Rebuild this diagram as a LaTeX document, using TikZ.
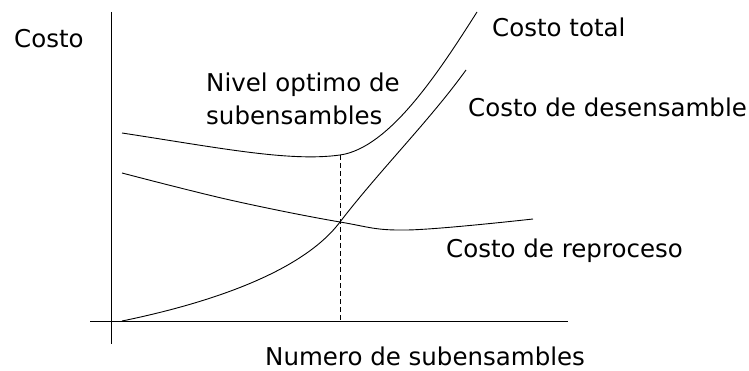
\documentclass[tikz,border=0pt]{standalone}
\usepackage{fontspec}
\setmainfont{DejaVu Sans}
\usetikzlibrary{positioning,calc}

\tikzset{
    curve/.style={line width=0.9pt},
    axis/.style={line width=0.9pt},
    lbl/.style={anchor=base west, inner sep=0pt, font=\fontsize{24.5}{30}\selectfont}
}

\begin{document}
\begin{tikzpicture}[x=1pt,y=-1pt]
        \useasboundingbox (0,0) rectangle (749,371);
        % axes
        \coordinate (ytop) at (111,12);
        \coordinate (ybot) at (111,344);
        \coordinate (xleft) at (90,321);
        \coordinate (xright) at (568,321);
        \draw [axis] (ytop) -- (ybot);
        \draw [axis] (xleft) -- (xright);
        % curves
        \coordinate (opt) at (340,222);
        \coordinate (optbase) at (340,321);
        \coordinate (tmin) at (340,155);
        \draw [curve] (122,133) .. controls (220,148) and (290,162) .. (tmin)
            .. controls (390,148) and (440,70) .. (477,12);
        \draw [curve] (122,321) .. controls (200,305) and (300,275) .. (opt)
            .. controls (380,170) and (430,120) .. (466,70);
        \draw [curve] plot [smooth, tension=0.6] coordinates {(122,173) (230,200) (opt) (407,230) (533,219)};
        \draw [line width=0.8pt, dash pattern=on 5pt off 3pt] (tmin) -- (optbase);
        % labels
        \node (ylabel) [lbl] at (14,48) {Costo};
        \node (xlabel) [lbl] at (265,365) {Numero de subensambles};
        \node (total) [lbl] at (492,37) {Costo total};
        \node (nivel) [lbl] at (206,92) {Nivel optimo de};
        \node (subens) [lbl] at (206,125) {subensambles};
        \node (desens) [lbl] at (468,117) {Costo de desensamble};
        \node (reproc) [lbl] at (446,258) {Costo de reproceso};
\end{tikzpicture}
\end{document}
